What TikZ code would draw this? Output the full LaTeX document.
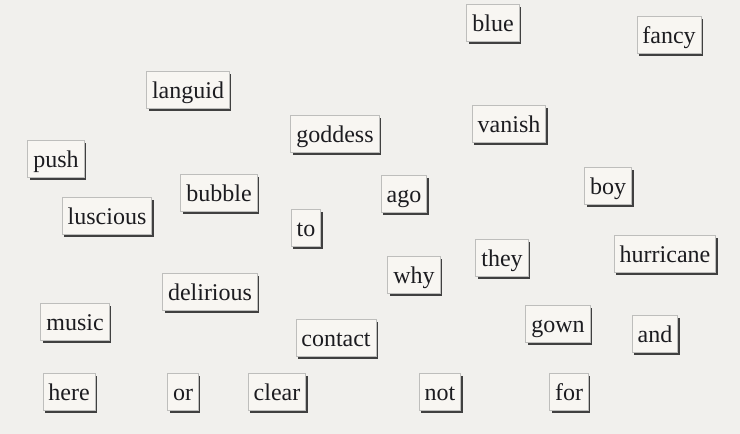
\documentclass[tikz,border=0pt]{standalone}
\usepackage{fontspec}
\setmainfont{Liberation Serif}
\usetikzlibrary{shadows}
\definecolor{fridge}{RGB}{241,240,237}
\definecolor{tile}{RGB}{248,246,242}
\definecolor{tileedge}{RGB}{190,190,188}
\definecolor{ink}{RGB}{28,28,32}

\begin{document}
\begin{tikzpicture}[x=1pt,y=-1pt,
		magnet/.style={fill=tile,draw=tileedge,line width=0.7pt,text=ink,
			font=\fontsize{24}{26}\selectfont,inner xsep=5.5pt,inner ysep=7.5pt,
			text height=19.5pt,text depth=2.5pt,
			drop shadow={shadow xshift=2pt,shadow yshift=-2pt,fill=black!75,opacity=1}}]
				\fill[fridge] (0,0) rectangle (740,434);
				\useasboundingbox (0,0) rectangle (740,434);
				\node[magnet] (blue) at (493,23) {blue};
				\node[magnet] (fancy) at (669,35) {fancy};
				\node[magnet] (languid) at (188,90) {languid};
				\node[magnet] (goddess) at (335,134) {goddess};
				\node[magnet] (vanish) at (509,124) {vanish};
				\node[magnet] (push) at (56,159) {push};
				\node[magnet] (bubble) at (219,193) {bubble};
				\node[magnet] (ago) at (404,194) {ago};
				\node[magnet] (boy) at (608,186) {boy};
				\node[magnet] (luscious) at (107,216) {luscious};
				\node[magnet] (to) at (306,228) {to};
				\node[magnet] (hurricane) at (665,254) {hurricane};
				\node[magnet] (they) at (502,258) {they};
				\node[magnet] (why) at (414,275) {why};
				\node[magnet] (delirious) at (210,292) {delirious};
				\node[magnet] (music) at (75,322) {music};
				\node[magnet] (gown) at (558,324) {gown};
				\node[magnet] (and) at (655,334) {and};
				\node[magnet] (contact) at (336,338) {contact};
				\node[magnet] (here) at (69,392) {here};
				\node[magnet] (or) at (183,392) {or};
				\node[magnet] (clear) at (277,392) {clear};
				\node[magnet] (not) at (440,392) {not};
				\node[magnet] (for) at (569,392) {for};
			\end{tikzpicture}
\end{document}
